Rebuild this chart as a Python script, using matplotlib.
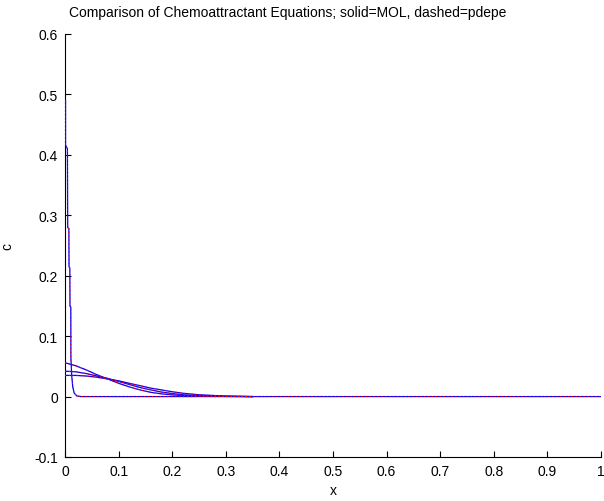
import matplotlib
matplotlib.use("Agg")
import matplotlib.pyplot as plt
import numpy as np

plt.rcParams.update({
    "font.family": ["Liberation Sans", "DejaVu Sans"],
    "font.size": 10,
    "axes.linewidth": 0.8,
})

# spike profile (early time), goes flat to x=1
x_spike = [0.001, 0.001, 0.0045, 0.005, 0.0072, 0.0075, 0.009, 0.0093, 0.0108,
           0.011, 0.0125, 0.0145, 0.017, 0.022, 0.03, 1.0]
c_spike = [0.49, 0.416, 0.41, 0.28, 0.278, 0.215, 0.213, 0.15, 0.148,
           0.065, 0.035, 0.016, 0.006, 0.001, 0.0, 0.0]

# later profiles
x_late = [0, 0.02, 0.04, 0.06, 0.08, 0.10, 0.12, 0.14, 0.16, 0.18, 0.20,
          0.22, 0.25, 0.30, 0.35]
c_a = [0.056, 0.051, 0.044, 0.036, 0.029, 0.022, 0.016, 0.011, 0.007, 0.0045,
       0.0028, 0.0017, 0.0008, 0.0002, 0]
c_b = [0.042, 0.041, 0.038, 0.034, 0.030, 0.025, 0.020, 0.015, 0.011, 0.0075,
       0.005, 0.003, 0.0015, 0.0004, 0]
c_c = [0.035, 0.035, 0.034, 0.032, 0.029, 0.026, 0.022, 0.018, 0.014, 0.011,
       0.008, 0.0055, 0.003, 0.0008, 0]

curves = [(x_spike, c_spike), (x_late, c_a), (x_late, c_b), (x_late, c_c)]

fig = plt.figure(figsize=(6.04, 5.02), dpi=100)
ax = fig.add_axes([65 / 604, 44 / 502, 536 / 604, 423 / 502])

# solid = MOL (blue), dashed = pdepe (red)
for xs, cs in curves:
    ax.plot(xs, cs, color="blue", linewidth=0.9, zorder=3)
for xs, cs in curves:
    ax.plot(xs, cs, color="red", linewidth=0.7, linestyle=(0, (1.2, 2.8)), zorder=4)

ax.set_xlim(0, 1)
ax.set_ylim(-0.1, 0.6)
ax.set_xticks(np.arange(0, 1.01, 0.1))
ax.set_xticklabels(["0", "0.1", "0.2", "0.3", "0.4", "0.5", "0.6", "0.7", "0.8", "0.9", "1"])
ax.set_yticks(np.arange(-0.1, 0.61, 0.1))
ax.set_yticklabels(["-0.1", "0", "0.1", "0.2", "0.3", "0.4", "0.5", "0.6"])
ax.tick_params(direction="in", length=4, width=0.8, labelsize=10, pad=5)
ax.spines["top"].set_visible(False)
ax.spines["right"].set_visible(False)

ax.set_xlabel("x", labelpad=4)
ax.set_ylabel("c", labelpad=14)
fig.text(288 / 604, 1 - 13.5 / 502,
         "Comparison of Chemoattractant Equations; solid=MOL, dashed=pdepe",
         ha="center", va="center", fontsize=10)

fig.savefig("out.png", dpi=100, facecolor="white")
